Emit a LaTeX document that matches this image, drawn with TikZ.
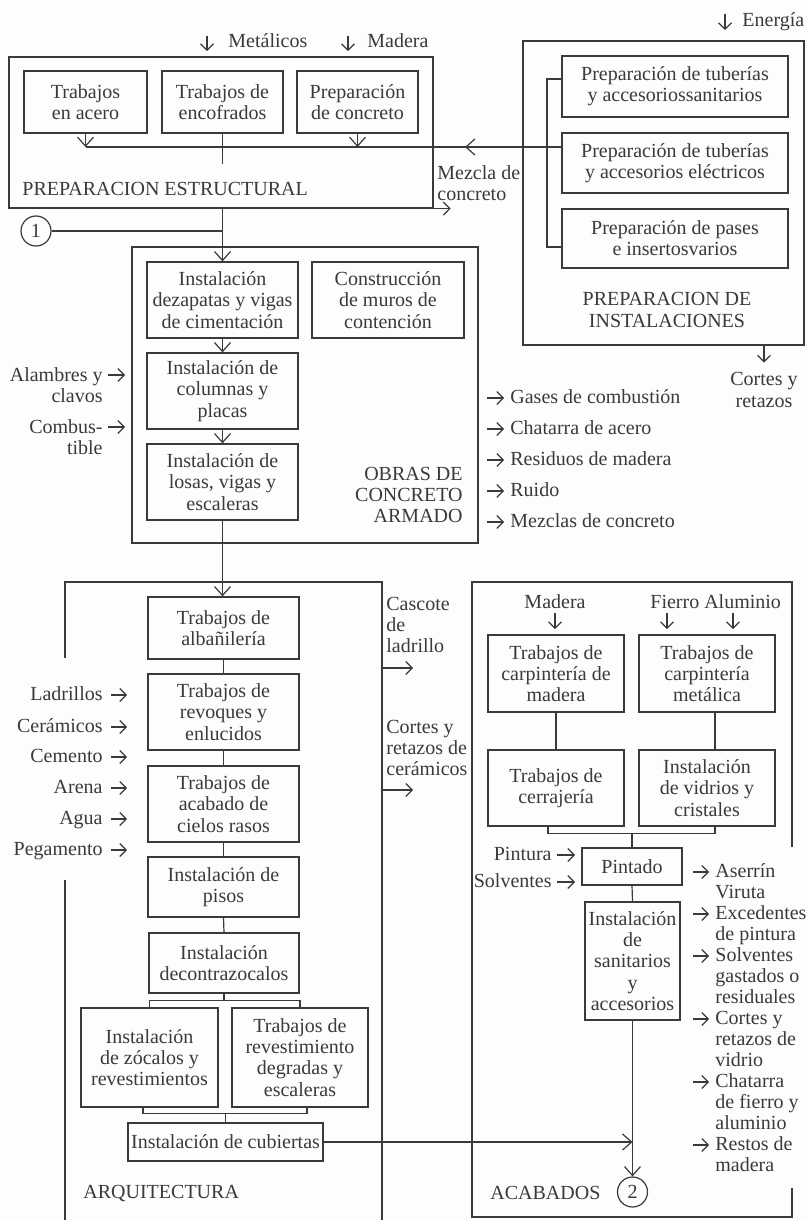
\documentclass[tikz,border=0pt]{standalone}
\usepackage{fontspec}
\setmainfont{Liberation Serif}
\usetikzlibrary{arrows.meta}
\definecolor{ink}{HTML}{3A3A3A}
\definecolor{paper}{HTML}{FDFDFB}
\newcommand\dfont{\fontsize{10}{10.6}\selectfont}
% \bx{name}{x1}{y1}{x2}{y2}{text}: a framed box given by two corners
\newcommand\bx[6]{\node[box, minimum width={(#4-#2)*0.5pt}, minimum height={(#5-#3)*0.5pt}]
  (#1) at ({(#2+#4)/2},{(#3+#5)/2}) {#6};}
\begin{document}
\begin{tikzpicture}[x=0.5pt,y=-0.5pt,
  every node/.style={text=ink, font=\dfont, inner sep=0pt},
  wire/.style={draw=ink, line width=0.6pt},
  arr/.style={wire, -{Straight Barb[length=4.5pt,width=8pt]}},
  tick/.style={wire, -{Straight Barb[length=3.2pt,width=6.5pt]}},
  box/.style={draw=ink, line width=0.6pt, align=center},
  frame/.style={draw=ink, line width=0.6pt},
  ring/.style={circle, draw=ink, line width=0.6pt, minimum size=15pt}]

\fill[paper] (0,0) rectangle (808,1220);
\useasboundingbox (0,0) rectangle (808,1220);

% ---------- Preparacion estructural ----------
\bx{S}{9}{57}{433}{208}{}
\node[anchor=base west] (Slbl) at (22,195) {PREPARACION ESTRUCTURAL};
\bx{s1}{24}{71}{147}{133}{Trabajos\\en acero}
\bx{s2}{162}{71}{283}{133}{Trabajos de\\encofrados}
\bx{s3}{297}{71}{418}{133}{Preparación\\de concreto}

\node[anchor=base west] (met) at (228,48) {Metálicos};
\draw[tick] ([shift={(-10.5pt,6pt)}]met.base west) -- ++(0,-7.5pt);
\node[anchor=base west] (mad) at (367,48) {Madera};
\draw[tick] ([shift={(-9.5pt,6pt)}]mad.base west) -- ++(0,-7.5pt);

% ---------- Preparacion de instalaciones ----------
\bx{I}{523}{41}{804}{345}{}
\bx{i1}{562}{56}{788}{117}{Preparación de tuberías\\y accesoriossanitarios}
\bx{i2}{562}{133}{788}{193}{Preparación de tuberías\\y accesorios eléctricos}
\bx{i3}{562}{209}{788}{268}{Preparación de pases\\e insertosvarios}
\node[align=center] (Ilbl) at (667,310) {PREPARACION DE\\INSTALACIONES};

\node[anchor=base west] (ene) at (742,27) {Energía};
\draw[tick] ([shift={(-8.5pt,6.5pt)}]ene.base west) -- ++(0,-8pt);
\node[align=center] (cr) at (764,390) {Cortes y\\retazos};
\draw[tick] (I.south -| cr.north) -- ++(0,-8.5pt);

% bracket joining the installation boxes
\coordinate (bT) at (547,79);
\coordinate (bM) at (547,147);
\coordinate (bB) at (547,247);
\draw[wire] (i1.west |- bT) -- (bT) -- (bB) -- (i3.west |- bB);
\draw[wire] (i2.west |- bM) -- (s1.south |- bM);
\draw[arr] (bM) -- (465,147);
\draw[arr] (s1.south) -- (s1.south |- bM);
\draw[arr] (s3.south) -- (s3.south |- bM);
\draw[wire] (s2.south) -- ++(0,-15pt);

\node[align=left, anchor=west] (mez) at (437,183) {Mezcla de\\concreto};
\draw[tick] (S.south east) -- ++(8.5pt,0);

% ---------- Obras de concreto armado ----------
\node[ring] (n1) at (36,231) {1};
\bx{C}{132}{247}{478}{543}{}
\bx{c1}{147}{262}{298}{338}{Instalación\\dezapatas y vigas\\de cimentación}
\bx{c2}{312}{262}{464}{338}{Construcción\\de muros de\\contención}
\bx{c3}{147}{353}{298}{429}{Instalación de\\columnas y\\placas}
\bx{c4}{147}{444}{298}{520}{Instalación de\\losas, vigas y\\escaleras}
\node[align=right, anchor=east] (Clbl) at (463,495) {OBRAS DE\\CONCRETO\\ARMADO};

\draw[arr] (s2.south |- S.south) -- (c1.north);
\draw[wire] (n1.east) -- (n1.east -| c1.north);
\draw[arr] (c1.south) -- (c3.north);
\draw[arr] (c3.south) -- (c4.north);

\node[align=right, anchor=east] (alam) at (103,385) {Alambres y\\clavos};
\draw[tick] ([shift={(2.5pt,5pt)}]alam.east) -- ++(8.5pt,0);
\node[align=right, anchor=east] (comb) at (103,437) {Combus-\\tible};
\draw[tick] ([shift={(2.5pt,5pt)}]comb.east) -- ++(8.5pt,0);

\foreach \t [count=\k from 0] in {Gases de combustión, Chatarra de acero, Residuos de madera, Ruido, Mezclas de concreto} {
  \node[anchor=base west] (co\k) at (510,{403+31*\k}) {\t};
  \draw[tick] (487,{398+31*\k}) -- (504,{398+31*\k});
}

% ---------- Arquitectura ----------
\draw[frame] (65,658) -- (65,582) -- (382,582) -- (382,1220);
\draw[frame] (65,880) -- (65,1220);
\bx{a1}{148}{597}{299}{659}{Trabajos de\\albañilería}
\bx{a2}{148}{674}{299}{750}{Trabajos de\\revoques y\\enlucidos}
\bx{a3}{148}{766}{299}{842}{Trabajos de\\acabado de\\cielos rasos}
\bx{a4}{148}{857}{299}{917}{Instalación de\\pisos}
\bx{a5}{149}{933}{299}{993}{Instalación\\decontrazocalos}
\bx{a6}{81}{1008}{218}{1107}{Instalación\\de zócalos y\\revestimientos}
\bx{a7}{232}{1008}{368}{1107}{Trabajos de\\revestimiento\\degradas y\\escaleras}
\bx{a8}{128}{1123}{323}{1161}{Instalación de cubiertas}
\node[anchor=base west] (Albl) at (83,1198) {ARQUITECTURA};

\draw[arr] (c4.south) -- (c4.south |- a1.north);
\draw[wire] (a1.south) -- (a2.north);
\draw[wire] (a2.south) -- (a3.north);
\draw[wire] (a3.south) -- (a4.north);
\draw[wire] (a4.south) -- (a5.north);
\draw[wire] (a6.north) -- ++(0,-7) coordinate (k1) -| (a7.north);
\draw[wire] (a5.south) -- (a5.south |- k1);
\draw[wire] ([xshift=-3.25pt]a6.south) -- ++(0,6) coordinate (k2) -| ([xshift=3.5pt]a7.south);
\draw[wire] (a8.north) -- (a8.north |- k2);

\foreach \t/\y [count=\k] in {Ladrillos/695, Cerámicos/727, Cemento/757, Arena/788, Agua/819, Pegamento/850} {
  \node[anchor=base east] (ai\k) at (103,{\y+5}) {\t};
  \draw[tick] (111,\y) -- (127,\y);
}

\node[align=left, anchor=west] (casc) at (386,625) {Cascote\\de\\ladrillo};
\draw[tick] (382,668) -- (413,668);
\node[align=left, anchor=west] (cerc) at (386,748) {Cortes y\\retazos de\\cerámicos};
\draw[tick] (382,790) -- (413,790);

% ---------- Acabados ----------
\draw[frame] (792,847) -- (792,582) -- (472,582) -- (472,1217) -- (792,1217) -- (792,1188);
\node[anchor=base] (madB) at (555,608) {Madera};
\draw[tick] (555,613) -- (555,629);
\node[anchor=base west] (fa) at (650,608) {Fierro Aluminio};
\draw[tick] (667,613) -- (667,629);
\draw[tick] (733,613) -- (733,629);

\bx{b1}{488}{635}{624}{712}{Trabajos de\\carpintería de\\madera}
\bx{b2}{639}{635}{775}{712}{Trabajos de\\carpintería\\metálica}
\bx{b3}{488}{750}{624}{826}{Trabajos de\\cerrajería}
\bx{b4}{639}{750}{775}{826}{Instalación\\de vidrios y\\cristales}
\bx{b5}{582}{848}{682}{885}{Pintado}
\bx{b6}{585}{902}{680}{1020}{Instalación\\de\\sanitarios\\y\\accesorios}
\node[ring] (n2) at (632.5,1192) {2};
\node[anchor=base west] (Blbl) at (490,1199) {ACABADOS};

\draw[wire] (b1.south) -- (b3.north);
\draw[wire] ([xshift=4pt]b2.south) -- ([xshift=4pt]b4.north);
\draw[wire] ([xshift=-4pt]b3.south) -- ++(0,7) coordinate (k3) -| ([xshift=4pt]b4.south);
\draw[wire] (b5.north) -- (b5.north |- k3);
\draw[wire] (b5.south) -- (b6.north);
\draw[arr] (b6.south) -- (n2.north);
\draw[arr] (a8.east) -- (a8.east -| n2.north);

\node[anchor=base east] (pin) at (552,860) {Pintura};
\draw[tick] (557,855) -- (575,855);
\node[anchor=base east] (sol) at (552,887) {Solventes};
\draw[tick] (557,882) -- (575,882);

\foreach \t/\a [count=\k from 0] in {Aserrín/1, Viruta/0, Excedentes/1, de pintura/0, Solventes/1, gastados o/0, residuales/0, Cortes y/1, retazos de/0, vidrio/0, Chatarra/1, de fierro y/0, aluminio/0, Restos de/1, madera/0} {
  \node[anchor=base west] (bo\k) at (715,{877+21*\k}) {\t};
  \ifnum\a=1
    \draw[tick] (693,{872+21*\k}) -- (709,{872+21*\k});
  \fi
}
\end{tikzpicture}
\end{document}
